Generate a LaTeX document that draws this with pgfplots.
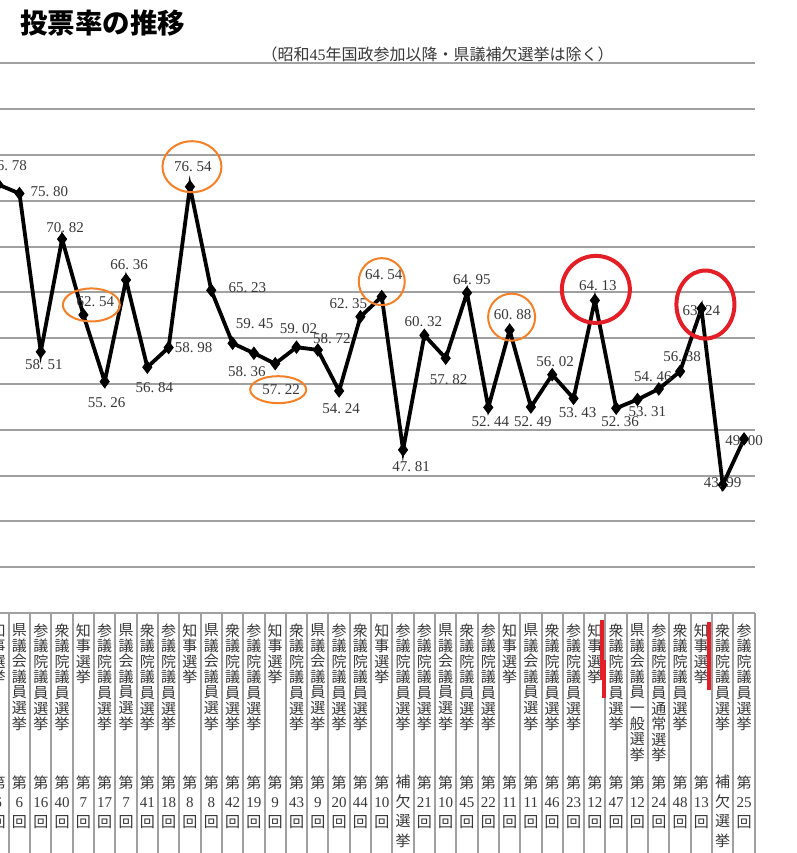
\documentclass[border=0pt]{standalone}
\usepackage{fontspec}
\setmainfont{Liberation Serif}
\newfontfamily\cjk{Noto Sans CJK JP}
\usepackage{pgfplots}
\pgfplotsset{compat=1.18}
\usetikzlibrary{shapes.geometric}

\definecolor{gridgray}{RGB}{160,160,160}
\definecolor{circorange}{RGB}{245,128,40}
\definecolor{circred}{RGB}{228,30,38}
\definecolor{txtgray}{RGB}{55,55,55}

% digits in the serif face, period in a digit-wide cell
\newcommand{\nm}[1]{{\rmfamily #1}}
\newcommand{\pd}{\hbox to 0.5em{.\hss}}
\makeatletter
\newcommand{\vstack}[1]{\@tfor\vc:=#1\do{\vc\par}}
\makeatother
\newlength{\colw}\setlength{\colw}{10pt}
\newlength{\toph}\setlength{\toph}{76pt}
% vertical column label: name on top, number block at fixed depth
\newcommand{\vlab}[2]{\parbox[t]{\colw}{\lineskip=0pt\lineskiplimit=0pt\centering
  \fontsize{7.5pt}{7.8pt}\selectfont
  \parbox[t][\toph][t]{\colw}{\centering\vstack{#1}}\par
  \fontsize{7.5pt}{9.75pt}\selectfont\vstack{#2}}}
\newcommand{\shu}[1]{\vlab{衆議院議員選挙}{第{\nm{#1}}回}}
\newcommand{\san}[1]{\vlab{参議院議員選挙}{第{\nm{#1}}回}}
\newcommand{\ken}[1]{\vlab{県議会議員選挙}{第{\nm{#1}}回}}
\newcommand{\gov}[1]{\vlab{知事選挙}{第{\nm{#1}}回}}

\begin{document}
\begin{tikzpicture}
\path[use as bounding box] (0,0) rectangle (398.5pt,-426.5pt);
\clip (0,0) rectangle (398.5pt,-426.5pt);

\begin{axis}[
  at={(-6.25pt,-306.5pt)}, anchor=south west,
  scale only axis, width=383.6pt, height=274.8pt,
  xmin=-0.5, xmax=35.5, ymin=30, ymax=90,
  axis line style={draw=none},
  major tick length=0pt, tick style={draw=none},
  ytick={30,35,...,90}, yticklabel={},
  ymajorgrids, grid style={gridgray, line width=1pt},
  xtick={0,...,35},
  xticklabels={\gov{6},\ken{6},\san{16},\shu{40},\gov{7},\san{17},\ken{7},\shu{41},\san{18},\gov{8},\ken{8},\shu{42},\san{19},\gov{9},\shu{43},\ken{9},\san{20},\shu{44},\gov{10},\vlab{参議院議員選挙}{補欠選挙},\san{21},\ken{10},\shu{45},\san{22},\gov{11},\ken{11},\shu{46},\san{23},\gov{12},\shu{47},\vlab{県議会議員一般選挙}{第{\nm{12}}回},\vlab{参議院議員通常選挙}{第{\nm{24}}回},\shu{48},\gov{13},\vlab{衆議院議員選挙}{補欠選挙},\san{25}},
  xticklabel style={font=\cjk, text=txtgray, anchor=north, inner sep=0pt, yshift=-5pt},
  /pgf/number format/assume math mode=true,
]

\addplot[black, line width=1.9pt, mark=diamond*, mark size=3pt,
  mark options={solid, line width=0.5pt},
  visualization depends on={value \thisrow{dx}\as\dx},
  visualization depends on={value \thisrow{dy}\as\dy},
  nodes near coords={\pgfmathprintnumber[fixed,fixed zerofill,precision=2,set decimal separator={\pd}]{\pgfplotspointmeta}},
  nodes near coords style={anchor=center, inner sep=0pt, text=txtgray,
    font=\fontsize{7.5pt}{8pt}\selectfont,
    xshift={0.5pt*(\dx)}, yshift={-0.5pt*(\dy)}},
] table {
x y dx dy
0 76.78 10 -19
1 75.80 30 -2
2 58.51 3 13
3 70.82 3 -11
4 62.54 12 -13
5 55.26 2 21
6 66.36 3 -15
7 56.84 7 20
8 58.98 25 0
9 76.54 3 -20
10 65.23 36 -3
11 59.45 22 -20
12 58.36 -7 18
13 57.22 6 26
14 59.02 2 -19
15 58.72 14 -11
16 54.24 2 18
17 62.35 -12 -13
18 64.54 2 -22
19 47.81 8 17
20 60.32 -1 -14
21 57.82 3 21
22 64.95 5 -13
23 52.44 2 14
24 60.88 3 -16
25 52.49 2 15
26 56.02 3 -13
27 53.43 4 14
28 64.13 3 -15
29 52.36 4 13
30 53.31 10 12
31 54.46 -6 -12
32 56.38 2 -15
33 63.24 0 2
34 43.99 0 -2
35 49.00 0 2
};

% hand-drawn rings round the governor elections
\addplot[only marks, mark=none,
  visualization depends on={value \thisrow{dx}\as\dx},
  visualization depends on={value \thisrow{dy}\as\dy},
  visualization depends on={value \thisrow{w}\as\w},
  visualization depends on={value \thisrow{h}\as\h},
  nodes near coords={},
  nodes near coords style={ellipse, draw=circorange, line width=1pt, inner sep=0pt,
    anchor=center, minimum width={0.5pt*(\w)}, minimum height={0.5pt*(\h)},
    xshift={0.5pt*(\dx)}, yshift={-0.5pt*(\dy)}},
] table {
x y dx dy w h
4 62.54 8 -10 57 33
9 76.54 2 -20 59 51
13 57.22 3 26 56 27
18 64.54 0 -15 46 47
24 60.88 2 -13 47 47
};
\addplot[only marks, mark=none,
  visualization depends on={value \thisrow{dx}\as\dx},
  visualization depends on={value \thisrow{dy}\as\dy},
  visualization depends on={value \thisrow{w}\as\w},
  visualization depends on={value \thisrow{h}\as\h},
  nodes near coords={},
  nodes near coords style={ellipse, draw=circred, line width=2pt, inner sep=0pt,
    anchor=center, minimum width={0.5pt*(\w)}, minimum height={0.5pt*(\h)},
    xshift={0.5pt*(\dx)}, yshift={-0.5pt*(\dy)}},
] table {
x y dx dy w h
28 64.13 1 -11 68 67
33 63.24 4 -4 58 68
};
\end{axis}

\begin{scope}[x=0.5pt, y=-0.5pt]
  \node[anchor=west, inner sep=0pt, font=\cjk\bfseries\fontsize{13.75pt}{14pt}\selectfont] at (20,23) {投票率の推移};
  \node[anchor=east, inner sep=0pt, font=\cjk\fontsize{8pt}{9pt}\selectfont, text=txtgray] at (614,54) {（昭和\nm{45}年国政参加以降・県議補欠選挙は除く）};
  \foreach \k in {0,...,36}
    \draw[gridgray, line width=1pt] ({-12.5+21.31*\k},613) -- ({-12.5+21.31*\k},870);
  \draw[circred, line width=2pt] (602,620) -- (602,680) (604,660) -- (604,698);
  \draw[circred, line width=2.2pt] (709,622) -- (709,690);
\end{scope}
\end{tikzpicture}
\end{document}
